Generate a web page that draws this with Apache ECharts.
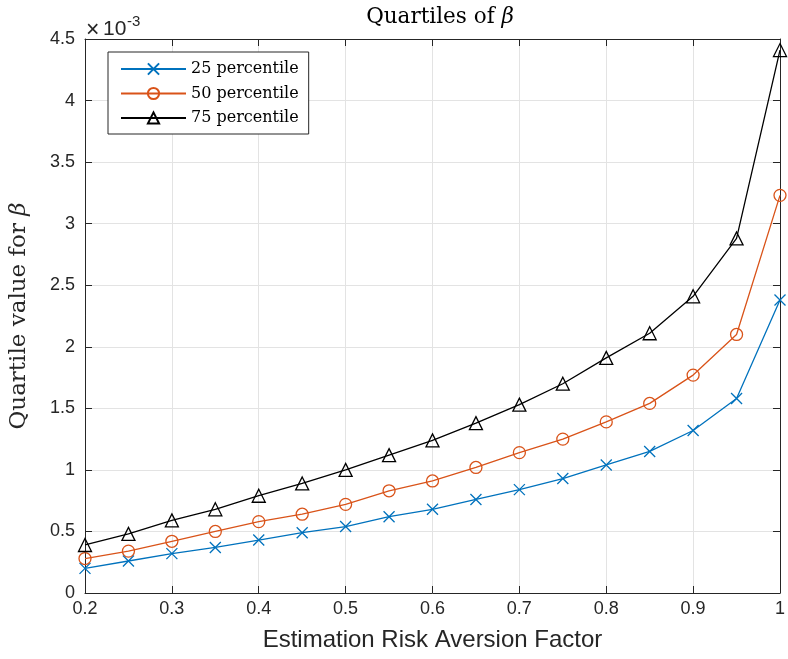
<!DOCTYPE html>
<html><head><meta charset="utf-8">
<script src="https://cdn.jsdelivr.net/npm/echarts@6/dist/echarts.min.js"></script>
<style>html,body{margin:0;padding:0;background:#fff}#c{width:788px;height:659px}</style>
</head><body><div id="c"></div>
<script>
const xValues = [0.2,0.25,0.3,0.35,0.4,0.45,0.5,0.55,0.6,0.65,0.7,0.75,0.8,0.85,0.9,0.95,1.0];
const p25 = [0.20,0.26,0.32,0.37,0.43,0.49,0.54,0.62,0.68,0.76,0.84,0.93,1.04,1.15,1.32,1.58,2.38];
const p50 = [0.28,0.34,0.42,0.50,0.58,0.64,0.72,0.83,0.91,1.02,1.14,1.25,1.39,1.54,1.77,2.10,3.23];
const p75 = [0.39,0.48,0.59,0.68,0.79,0.89,1.00,1.12,1.24,1.38,1.53,1.70,1.91,2.11,2.41,2.88,4.41];
const seriesNames = ['25 percentile','50 percentile','75 percentile'];
const xTicks = {min:0.2, max:1, step:0.1};
const yTicks = {min:0, max:4.5, step:0.5};

const axisColor = '#262626';
const gridColor = '#e3e3e3';
const sans = 'Liberation Sans, Arial, sans-serif';
const serif = 'DejaVu Serif, serif';

function pairs(ys){ return xValues.map((x,i)=>[x, ys[i]]); }

const chart = echarts.init(document.getElementById('c'));
const crossPath = 'path://M0,0L10,10M10,0L0,10';
function mkSeries(name, data, color, symbol, size){
  return {
    name, type:'line', data:pairs(data), xAxisIndex:0, yAxisIndex:0,
    symbol, symbolSize:size, showSymbol:true,
    lineStyle:{color, width:1.3},
    itemStyle:{color:'rgba(0,0,0,0)', borderColor:color, borderWidth:1.3},
    emphasis:{disabled:true}, animation:false, z:3
  };
}
function expPart(text, left, top, size){
  return {text, left, top, padding:0, textStyle:{fontFamily:sans, fontSize:size, fontWeight:'normal', color:axisColor}};
}
const gridPos = {left:85, right:3, top:39, bottom:66};
chart.setOption({
  animation:false,
  title:[{
    text:'{n|Quartiles of }{b|β}', left:435, textAlign:'center', top:1,
    textStyle:{rich:{n:{fontFamily:serif, fontSize:21.5, fontWeight:'normal', color:'#000'}, b:{fontFamily:serif, fontSize:21.5, fontStyle:'italic', fontWeight:'normal', color:'#000'}}}
  },
    expPart('×', 86, 19, 23),
    expPart('10', 103, 19, 21),
    expPart('-3', 127, 14, 15)
  ],
  legend:{
    orient:'vertical', left:108, top:52, padding:[9,10,8,12],
    itemWidth:65, itemHeight:14, itemGap:8.5,
    borderColor:axisColor, borderWidth:1, backgroundColor:'#fff', borderRadius:0,
    textStyle:{fontFamily:serif, fontSize:16, color:'#000'},
    data:seriesNames
  },
  grid:gridPos,
  xAxis:[{
    type:'value', min:xTicks.min, max:xTicks.max, interval:xTicks.step,
    name:'Estimation Risk Aversion Factor', nameLocation:'middle', nameGap:35,
    nameTextStyle:{fontFamily:sans, fontSize:24, color:axisColor},
    axisLine:{lineStyle:{color:axisColor, width:1}},
    axisTick:{inside:true, length:7, lineStyle:{color:axisColor}},
    axisLabel:{fontFamily:sans, fontSize:18, color:axisColor, margin:7, formatter:v=>String(+v.toFixed(1))},
    splitLine:{show:true, lineStyle:{color:gridColor, width:1}}
  },{
    type:'value', position:'top', min:xTicks.min, max:xTicks.max, interval:xTicks.step,
    axisLine:{onZero:false, lineStyle:{color:axisColor, width:1}},
    axisTick:{inside:true, length:7, lineStyle:{color:axisColor}},
    axisLabel:{show:false}, splitLine:{show:false}
  }],
  yAxis:[{
    type:'value', min:yTicks.min, max:yTicks.max, interval:yTicks.step,
    name:'{n|Quartile value for }{b|β}', nameLocation:'middle', nameGap:54,
    nameTextStyle:{rich:{n:{fontFamily:serif, fontSize:23, color:axisColor}, b:{fontFamily:serif, fontSize:23, fontStyle:'italic', color:axisColor}}},
    axisLine:{show:true, lineStyle:{color:axisColor, width:1}},
    axisTick:{show:true, inside:true, length:7, lineStyle:{color:axisColor}},
    axisLabel:{fontFamily:sans, fontSize:18, color:axisColor, margin:10, formatter:v=>String(+v.toFixed(1))},
    splitLine:{show:true, lineStyle:{color:gridColor, width:1}}
  },{
    type:'value', position:'right', min:yTicks.min, max:yTicks.max, interval:yTicks.step,
    axisLine:{show:true, onZero:false, lineStyle:{color:axisColor, width:1}},
    axisTick:{show:true, inside:true, length:7, lineStyle:{color:axisColor}},
    axisLabel:{show:false}, splitLine:{show:false}
  }],
  series:[
    mkSeries(seriesNames[0], p25, '#0072BD', crossPath, 11),
    mkSeries(seriesNames[1], p50, '#D95319', 'circle', 12),
    mkSeries(seriesNames[2], p75, '#000000', 'triangle', 13)
  ]
});
</script></body></html>
